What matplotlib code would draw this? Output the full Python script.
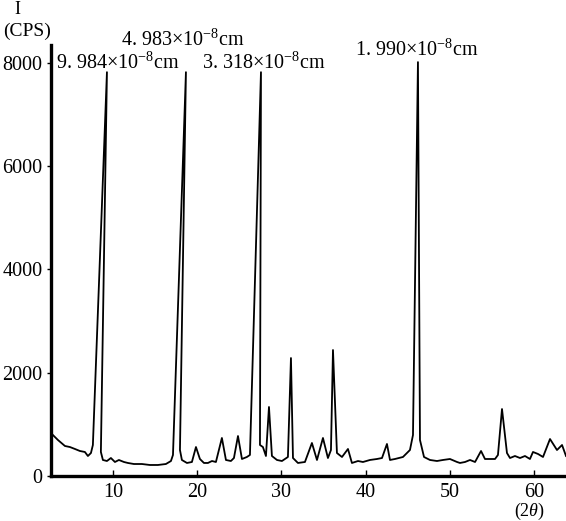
import matplotlib
matplotlib.use("Agg")
import matplotlib.pyplot as plt

plt.rcParams['font.family'] = ['Liberation Serif', 'DejaVu Serif']
plt.rcParams['mathtext.fontset'] = 'custom'
plt.rcParams['mathtext.rm'] = 'Liberation Serif'
plt.rcParams['mathtext.it'] = 'Liberation Serif:italic'

# XRD trace, in drawing order (2 theta, counts per second)
two_theta = [2.87, 3.47, 4.30, 4.89, 5.49, 6.08, 6.67, 7.03, 7.39, 7.62,
             9.29, 8.57, 8.81, 9.29, 9.76, 10.24, 10.71, 11.31, 11.78, 12.49,
             13.44, 14.39, 15.34, 16.29, 16.89, 17.13, 18.67, 17.96, 18.19, 18.79,
             19.38, 19.86, 20.33, 20.81, 21.28, 21.76, 22.23, 22.94, 23.42, 24.01,
             24.37, 24.85, 25.32, 25.91, 26.27, 27.58, 27.46, 27.81, 28.17, 28.53,
             28.88, 29.48, 30.07, 30.78, 31.14, 31.38, 31.97, 32.80, 33.63, 34.23,
             34.94, 35.53, 35.89, 36.13, 36.60, 37.20, 37.91, 38.38, 39.10, 39.69,
             40.52, 41.35, 41.95, 42.54, 42.90, 43.49, 44.44, 45.27, 45.63, 46.22,
             46.46, 46.94, 47.65, 48.48, 49.19, 50.02, 50.86, 51.21, 51.81, 52.40,
             53.00, 53.71, 54.18, 54.77, 55.37, 55.72, 56.20, 56.79, 57.15, 57.74,
             58.34, 58.93, 59.52, 59.88, 60.48, 61.07, 61.90, 62.73, 63.33, 63.80]
counts = [794, 697, 581, 561, 523, 484, 465, 387, 445, 600,
          7820, 465, 310, 290, 348, 271, 310, 271, 252, 232,
          232, 213, 213, 232, 290, 407, 7820, 503, 310, 252,
          271, 561, 329, 252, 252, 290, 271, 736, 310, 290,
          348, 774, 329, 368, 407, 7820, 600, 561, 387, 1336,
          387, 310, 290, 368, 2284, 348, 252, 271, 639, 310,
          736, 348, 503, 2439, 445, 368, 523, 252, 290, 271,
          310, 329, 348, 620, 310, 329, 368, 503, 794, 8015,
          697, 368, 310, 290, 310, 329, 271, 252, 271, 310,
          271, 484, 329, 329, 329, 407, 1297, 445, 348, 387,
          348, 387, 329, 465, 426, 368, 716, 503, 600, 387]

peak_labels = [r"9. 984$\times$10$^{-8}$cm", r"4. 983$\times$10$^{-8}$cm",
               r"3. 318$\times$10$^{-8}$cm", r"1. 990$\times$10$^{-8}$cm"]
label_pos = [(3.2, 8000), (10.9, 8440), (20.6, 8000), (38.7, 8250)]

x_ticks = [10, 20, 30, 40, 50, 60]
y_ticks = [0, 2000, 4000, 6000, 8000]

fig = plt.figure(figsize=(5.66, 5.21), dpi=100)
ax = fig.add_axes([0.090, 0.0864, 0.91, 0.827])
ax.plot(two_theta, counts, color="black", lw=1.3)

ax.set_xlim(2.64, 63.8)
ax.set_ylim(0, 8344)
ax.set_xticks(x_ticks)
ax.set_yticks(y_ticks)
for s in ["top", "right"]:
    ax.spines[s].set_visible(False)
for s in ["left", "bottom"]:
    ax.spines[s].set_linewidth(2.4)
ax.tick_params(axis="x", direction="in", length=4, width=1, labelsize=14.5, pad=5)
ax.tick_params(axis="y", direction="out", length=3, width=1, labelsize=14.5, pad=3)

for txt, (x, y) in zip(peak_labels, label_pos):
    ax.text(x, y, txt, fontsize=14.5, ha="left", va="center", clip_on=False)

fig.text(17/566, 1 - 10/521, "I", fontsize=13, ha="center", va="center")
fig.text(27/566, 1 - 31/521, "(CPS)", fontsize=14, ha="center", va="center")
fig.text(530/566, 1 - 511/521, r"(2$\mathit{\theta}$)", fontsize=13, ha="center", va="center")

fig.savefig("out.png", dpi=100)
